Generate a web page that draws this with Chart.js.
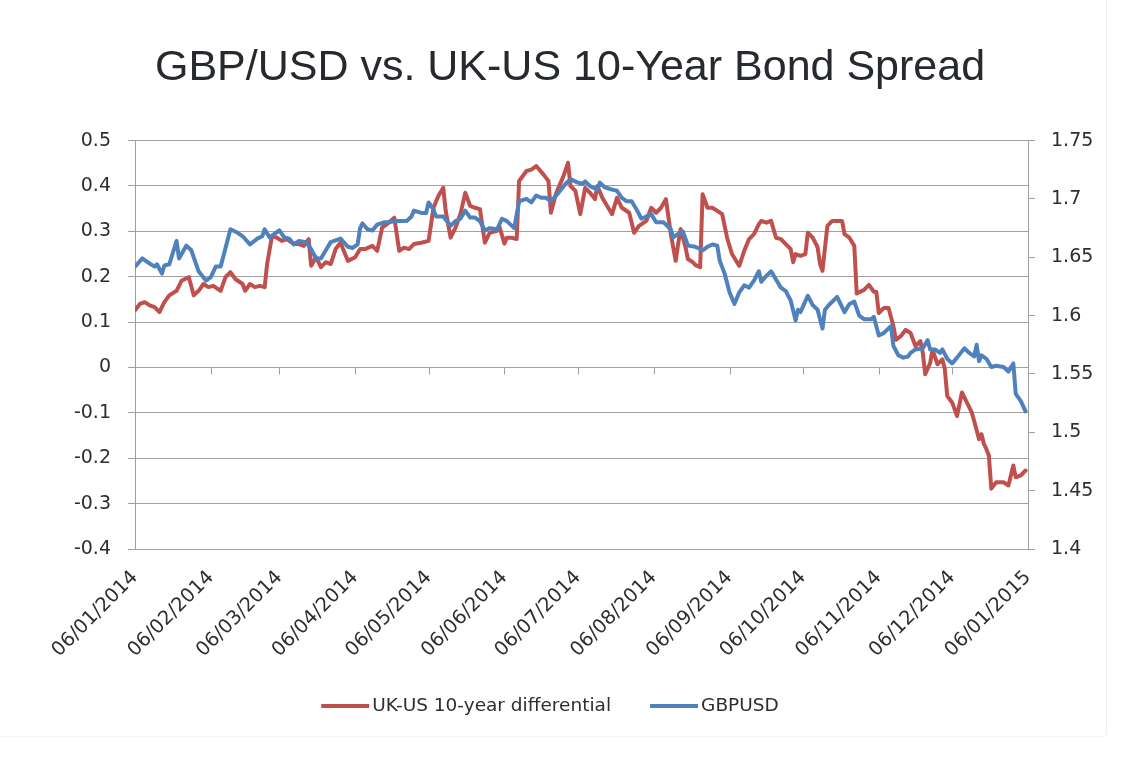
<!DOCTYPE html>
<html>
<head>
<meta charset="utf-8">
<title>GBP/USD vs. UK-US 10-Year Bond Spread</title>
<script src="https://cdn.jsdelivr.net/npm/chart.js@4.4.1/dist/chart.umd.min.js"></script>
<style>
  html, body { margin: 0; padding: 0; background: #fff; }
  #wrap { position: relative; width: 1140px; height: 760px; }
  #frame { position: absolute; left: 0; top: 0; width: 1106px; height: 736px;
           border-right: 1px solid #ececec; border-bottom: 1px solid #f3f3f3; border-bottom-right-radius: 4px; }
  canvas { position: absolute; left: 0; top: 0; }
</style>
</head>
<body>
<div id="wrap">
  <div id="frame"></div>
  <canvas id="bondChart" width="1140" height="760"></canvas>
</div>
<script>
// x values are days counted from 06/01/2014
const tickDays = [0, 31, 59, 90, 120, 151, 181, 212, 243, 273, 304, 334, 365];
const tickLabels = ['06/01/2014', '06/02/2014', '06/03/2014', '06/04/2014', '06/05/2014', '06/06/2014',
  '06/07/2014', '06/08/2014', '06/09/2014', '06/10/2014', '06/11/2014', '06/12/2014', '06/01/2015'];

// UK-US 10-year differential (left axis)
const spreadDays = [0, 2, 4, 6, 8, 10, 12, 14, 17, 19, 22, 24, 26, 28, 30, 32, 35, 37, 39, 41, 44, 45, 47, 49, 51, 53,
  54, 56, 58, 60, 62, 65, 67, 69, 71, 72, 74, 76, 78, 80, 82, 84, 87, 90, 92, 94, 97, 99, 101, 103, 106, 108, 110,
  112, 114, 117, 120, 122, 124, 126, 127, 129, 131, 133, 135, 137, 139, 141, 143, 145, 148, 149, 151, 152, 154, 156,
  157, 160, 162, 164, 167, 169, 170, 172, 175, 177, 178, 180, 182, 184, 186, 188, 189, 191, 193, 195, 197, 199, 202,
  204, 206, 209, 211, 213, 215, 217, 219, 221, 222, 223, 225, 226, 228, 229, 231, 232, 234, 236, 238, 240, 242, 244,
  247, 249, 251, 253, 255, 256, 258, 260, 262, 264, 266, 268, 269, 270, 272, 274, 275, 277, 279, 280, 281, 283, 285,
  287, 289, 290, 292, 294, 295, 298, 300, 302, 303, 304, 306, 308, 310, 311, 313, 315, 317, 319, 321, 322, 323, 325,
  326, 328, 330, 331, 332, 334, 336, 338, 340, 342, 343, 345, 346, 347, 348, 349, 350, 352, 355, 357, 359, 360, 362, 364];
const spreadValues = [0.126, 0.140, 0.144, 0.137, 0.133, 0.122, 0.144, 0.159, 0.169, 0.191, 0.199, 0.159, 0.169, 0.184,
  0.177, 0.180, 0.169, 0.199, 0.210, 0.195, 0.184, 0.169, 0.184, 0.177, 0.180, 0.177,
  0.228, 0.290, 0.286, 0.279, 0.283, 0.272, 0.272, 0.268, 0.283, 0.224, 0.243, 0.221, 0.232, 0.228, 0.261, 0.275,
  0.235, 0.243, 0.261, 0.261, 0.268, 0.257, 0.308, 0.316, 0.330, 0.257, 0.264,
  0.261, 0.272, 0.275, 0.279, 0.352, 0.378, 0.396, 0.345, 0.286, 0.308, 0.338, 0.385, 0.356, 0.352, 0.349, 0.275,
  0.297, 0.301, 0.310, 0.273, 0.286, 0.286, 0.283,
  0.411, 0.433, 0.436, 0.444, 0.425, 0.411, 0.341, 0.382, 0.420, 0.451, 0.400, 0.389, 0.338, 0.396, 0.385, 0.371,
  0.400, 0.374, 0.356, 0.338, 0.374, 0.352, 0.341,
  0.297, 0.312, 0.323, 0.352, 0.341, 0.352, 0.371, 0.294, 0.235, 0.272, 0.305, 0.265, 0.239, 0.232, 0.226, 0.221,
  0.382, 0.352, 0.352, 0.345, 0.338, 0.286, 0.250,
  0.224, 0.257, 0.283, 0.294, 0.316, 0.323, 0.319, 0.323, 0.286, 0.283, 0.272, 0.261, 0.232, 0.250, 0.246, 0.250,
  0.297, 0.286, 0.265, 0.228, 0.213, 0.312, 0.323,
  0.323, 0.323, 0.294, 0.286, 0.268, 0.163, 0.171, 0.182, 0.167, 0.167, 0.120, 0.131, 0.131, 0.091, 0.061, 0.069,
  0.083, 0.076, 0.047, 0.058, 0.032, -0.015, 0.010,
  0.039, 0.007, 0.018, -0.004, -0.063, -0.077, -0.107, -0.055, -0.077, -0.099, -0.118, -0.158, -0.147, -0.169,
  -0.180, -0.194, -0.267, -0.253, -0.253, -0.260, -0.216, -0.242, -0.238, -0.227];

// GBPUSD (right axis)
const gbpDays = [0, 3, 5, 8, 9, 11, 12, 14, 17, 18, 21, 23, 26, 29, 31, 33, 35, 37, 39, 42, 44, 47, 50, 52, 53, 55,
  59, 61, 63, 65, 67, 70, 72, 74, 76, 78, 80, 84, 87, 89, 91, 92, 93, 95, 97, 99, 102, 104, 106, 108, 111, 113, 114,
  117, 119, 120, 122, 123, 126, 129, 131, 133, 135, 137, 139, 141, 143, 145, 148, 150, 152, 155, 157, 160, 162, 164,
  166, 168, 170, 173, 176, 178, 181, 183, 184, 186, 189, 190, 192, 195, 197, 199, 201, 203, 205, 207, 209, 211, 213,
  216, 219, 220, 222, 224, 226, 229, 232, 234, 236, 238, 239, 241, 243, 245, 247, 249, 251, 253, 255, 256, 258, 260,
  262, 264, 266, 268, 270, 271, 272, 275, 277, 279, 281, 282, 284, 287, 290, 292, 294, 296, 298, 301, 302, 304, 306,
  309, 310, 312, 314, 316, 317, 319, 322, 324, 325, 327, 329, 330, 332, 334, 336, 339, 341, 343, 344, 345, 346, 348,
  350, 352, 355, 357, 359, 360, 362, 364];
const gbpValues = [1.642, 1.649, 1.646, 1.642, 1.644, 1.636, 1.643, 1.644, 1.664, 1.649, 1.660, 1.656, 1.638, 1.630,
  1.633, 1.642, 1.642, 1.658, 1.674, 1.671, 1.668, 1.661, 1.666, 1.668, 1.674, 1.667,
  1.673, 1.667, 1.666, 1.661, 1.664, 1.663, 1.657, 1.649, 1.649, 1.656, 1.663, 1.666, 1.659, 1.658, 1.661, 1.675,
  1.679, 1.674, 1.673, 1.678, 1.680, 1.680, 1.681, 1.681, 1.681, 1.685, 1.690,
  1.688, 1.688, 1.697, 1.691, 1.685, 1.685, 1.677, 1.681, 1.683, 1.690, 1.684, 1.684, 1.681, 1.673, 1.675, 1.674,
  1.683, 1.681, 1.675, 1.698, 1.700, 1.697, 1.703,
  1.701, 1.701, 1.698, 1.705, 1.713, 1.717, 1.714, 1.713, 1.715, 1.711, 1.708, 1.714, 1.710, 1.708, 1.707, 1.701,
  1.698, 1.698, 1.691, 1.683, 1.685, 1.687, 1.680,
  1.680, 1.674, 1.667, 1.670, 1.672, 1.660, 1.659, 1.656, 1.659, 1.661, 1.660, 1.647, 1.636, 1.620, 1.610, 1.620,
  1.626, 1.624, 1.630, 1.638, 1.629, 1.634, 1.638,
  1.631, 1.624, 1.621, 1.613, 1.596, 1.605, 1.603, 1.617, 1.609, 1.605, 1.589, 1.605, 1.610, 1.616, 1.603, 1.610,
  1.612, 1.600, 1.597, 1.597, 1.599, 1.583, 1.585,
  1.591, 1.574, 1.566, 1.564, 1.565, 1.568, 1.571, 1.572, 1.579, 1.571, 1.571, 1.568, 1.571, 1.563, 1.559, 1.564,
  1.572, 1.568, 1.565, 1.575, 1.561, 1.566, 1.563,
  1.556, 1.557, 1.556, 1.552, 1.559, 1.533, 1.527, 1.518];

const red = '#c0504d';
const blue = '#4f81bd';
const gridColor = '#a0a0a0';
const textColor = '#2e2e2e';
const tickFont = {family: '"DejaVu Sans", sans-serif', size: 19};

// small tick marks where the date axis crosses zero, as in the original
const zeroTicks = {
  id: 'zeroTicks',
  beforeDatasetsDraw(chart) {
    const {ctx, scales: {x, y}} = chart;
    const y0 = y.getPixelForValue(0);
    ctx.save();
    ctx.strokeStyle = gridColor;
    ctx.lineWidth = 1;
    x.ticks.forEach(t => {
      const px = Math.round(x.getPixelForValue(t.value)) + 0.5;
      ctx.beginPath();
      ctx.moveTo(px, y0);
      ctx.lineTo(px, y0 + 7);
      ctx.stroke();
    });
    ctx.restore();
  }
};

// Excel-style legend row: long line sample, text right next to it
const legendRow = {
  id: 'legendRow',
  afterDraw(chart) {
    const {ctx} = chart;
    const centerX = 550, midY = 706, sample = 48, gap = 3, itemGap = 39;
    ctx.save();
    ctx.font = '18.5px "DejaVu Sans", sans-serif';
    ctx.textBaseline = 'middle';
    const items = chart.data.datasets.map(ds => ({
      label: ds.label, color: ds.borderColor, w: ctx.measureText(ds.label).width
    }));
    const total = items.reduce((s, it) => s + sample + gap + it.w, 0) + itemGap * (items.length - 1);
    let x = centerX - total / 2;
    items.forEach(it => {
      ctx.fillStyle = it.color;
      ctx.fillRect(x, midY - 2, sample, 4);
      x += sample + gap;
      ctx.fillStyle = textColor;
      ctx.fillText(it.label, x, midY);
      x += it.w + itemGap;
    });
    ctx.restore();
  }
};

const ctx = document.getElementById('bondChart').getContext('2d');
new Chart(ctx, {
  type: 'line',
  data: {
    datasets: [
      {
        label: 'UK-US 10-year differential',
        data: spreadDays.map((d, i) => ({x: d, y: spreadValues[i]})),
        borderColor: red,
        backgroundColor: red,
        borderWidth: 4,
        pointRadius: 0,
        tension: 0,
        yAxisID: 'y',
        order: 1
      },
      {
        label: 'GBPUSD',
        data: gbpDays.map((d, i) => ({x: d, y: gbpValues[i]})),
        borderColor: blue,
        backgroundColor: blue,
        borderWidth: 4,
        pointRadius: 0,
        tension: 0,
        yAxisID: 'y1',
        order: 0
      }
    ]
  },
  options: {
    responsive: false,
    animation: false,
    layout: {padding: {top: 42, left: 48, right: 48, bottom: 61}},
    elements: {line: {borderJoinStyle: 'round', borderCapStyle: 'round'}},
    plugins: {
      title: {
        display: true,
        text: 'GBP/USD vs. UK-US 10-Year Bond Spread',
        color: '#26292e',
        font: {family: '"Liberation Sans", Arial, sans-serif', size: 43, weight: 'normal'},
        padding: {top: 0, bottom: 47}
      },
      legend: {display: false},
      tooltip: {enabled: false}
    },
    scales: {
      x: {
        type: 'linear',
        min: 0,
        max: 365,
        afterBuildTicks: axis => { axis.ticks = tickDays.map(v => ({value: v})); },
        afterFit: axis => { axis.height = 150; },
        grid: {display: false},
        border: {display: false},
        ticks: {
          color: textColor,
          font: {family: '"DejaVu Sans", sans-serif', size: 19.5},
          maxRotation: 45,
          minRotation: 45,
          padding: 9,
          callback: v => tickLabels[tickDays.indexOf(v)]
        }
      },
      y: {
        position: 'left',
        min: -0.4,
        max: 0.5,
        afterFit: axis => { axis.width = 87; },
        grid: {color: gridColor, tickLength: 7, lineWidth: 1},
        border: {color: gridColor},
        ticks: {
          stepSize: 0.1,
          color: textColor,
          font: tickFont,
          padding: 17,
          callback: v => String(Number(v.toFixed(1)))
        }
      },
      y1: {
        position: 'right',
        min: 1.4,
        max: 1.75,
        afterFit: axis => { axis.width = 64; },
        grid: {drawOnChartArea: false, color: gridColor, tickLength: 7},
        border: {color: gridColor},
        ticks: {
          stepSize: 0.05,
          color: textColor,
          font: tickFont,
          padding: 16,
          callback: v => String(Number(v.toFixed(2)))
        }
      }
    }
  },
  plugins: [zeroTicks, legendRow]
});
</script>
</body>
</html>
